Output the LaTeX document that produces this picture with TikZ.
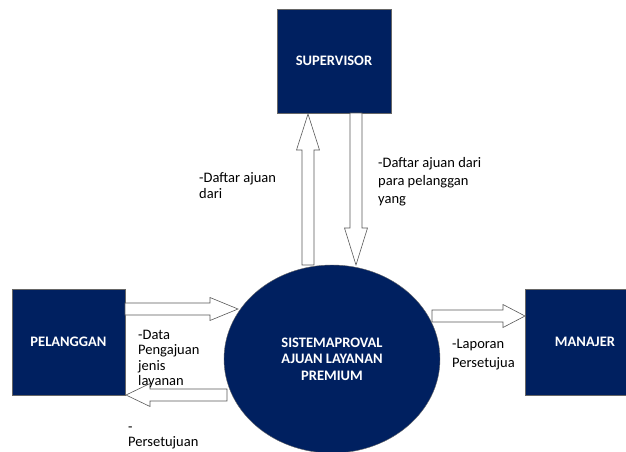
\documentclass[tikz,border=0pt]{standalone}
\usepackage{fontspec}
\setmainfont{Carlito}
\usetikzlibrary{shapes.geometric,calc}
\definecolor{navy}{RGB}{0,32,96}
\newcommand{\shaftw}{6pt}
\newcommand{\headw}{11.5pt}
\begin{document}
\begin{tikzpicture}[x=1pt,y=-1pt,
	every node/.style={font=\fontsize{14.5}{16.5}\selectfont},
	entity/.style={rectangle, draw=black!60, fill=navy, text=white, inner sep=0pt, font=\fontsize{14.5}{16.5}\selectfont\bfseries},
	process/.style={ellipse, draw=black!60, fill=navy, text=white, inner sep=0pt, align=center, font=\fontsize{14.5}{16.5}\selectfont\bfseries},
	flowlabel/.style={anchor=base west, align=left, inner sep=0pt},
	blockarrow/.style={draw=black!65, fill=white, line width=0.6pt,
		to path={
			($(\tikztostart)!\shaftw!90:(\tikztotarget)$)
			-- ($($(\tikztotarget)!#1!(\tikztostart)$)!\shaftw!90:(\tikztotarget)$)
			-- ($($(\tikztotarget)!#1!(\tikztostart)$)!\headw!90:(\tikztotarget)$)
			-- (\tikztotarget)
			-- ($($(\tikztotarget)!#1!(\tikztostart)$)!\headw!-90:(\tikztotarget)$)
			-- ($($(\tikztotarget)!#1!(\tikztostart)$)!\shaftw!-90:(\tikztotarget)$)
			-- ($(\tikztostart)!\shaftw!-90:(\tikztotarget)$) -- cycle}},
	blockarrow/.default=24pt]
		\useasboundingbox (0,0) rectangle (626,451);

		\node[entity, minimum width=114pt, minimum height=104pt] (supervisor) at (334,61) {SUPERVISOR};
		\node[entity, minimum width=113pt, minimum height=106pt] (pelanggan) at (68.5,342) {PELANGGAN};
		\node[entity, minimum width=120pt, minimum height=106pt] (manajer) at (585,342) {MANAJER};
		\node[process, minimum width=216pt, minimum height=188pt] (sistem) at (332,359)
			{SISTEMAPROVAL\\AJUAN LAYANAN\\PREMIUM};

		\coordinate (pelOut) at (125,309);
		\coordinate (sisIn) at (238,309);
		\coordinate (sisOut) at (227,395);
		\coordinate (pelIn) at (126,395);
		\coordinate (sisUp) at (308,265);
		\coordinate (supIn) at (308,114);
		\coordinate (supOut) at (356,113);
		\coordinate (sisTop) at (356,265);
		\coordinate (sisRight) at (432,316);
		\coordinate (manIn) at (525,316);

		\draw[blockarrow=28pt] (pelOut) to (sisIn);
		\draw[blockarrow] (sisOut) to (pelIn);
		\draw[blockarrow=36pt] (sisUp) to (supIn);
		\draw[blockarrow=37pt] (supOut) to (sisTop);
		\draw[blockarrow=22pt] (sisRight) to (manIn);

		% base of the last line
		\node[flowlabel, font=\fontsize{14.5}{15.5}\selectfont] (lblData) at (138,385.5) {-Data\\Pengajuan\\jenis\\layanan};
		\node[flowlabel, font=\fontsize{14.5}{15}\selectfont] (lblSetuju) at (128,446) {-\\Persetujuan};
		\node[flowlabel] (lblDaftarA) at (199,198.5) {-Daftar ajuan\\dari};
		\node[flowlabel, font=\fontsize{14.5}{18}\selectfont] (lblDaftarB) at (378,203) {-Daftar ajuan dari\\para pelanggan\\yang};
		\node[flowlabel, font=\fontsize{14.5}{19}\selectfont] (lblLaporan) at (452,367) {-Laporan\\Persetujua};
	\end{tikzpicture}
\end{document}
